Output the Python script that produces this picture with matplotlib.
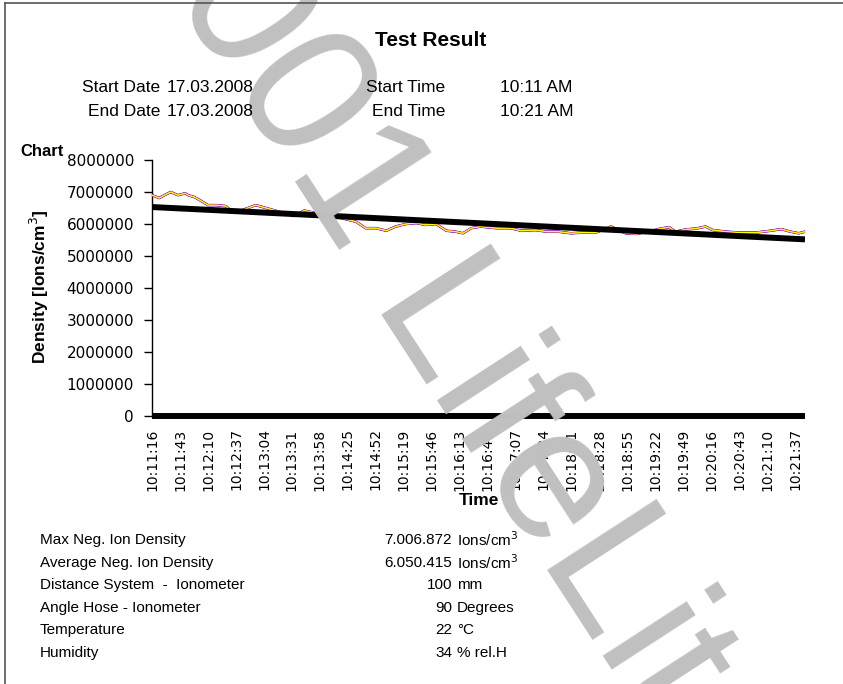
import numpy as np
import matplotlib
matplotlib.use("Agg")
import matplotlib.pyplot as plt
from matplotlib.lines import Line2D

# seconds after 10:11:16 and the read-off ion density (all three sensors overlap)
SECONDS = [0, 7, 12, 18, 25, 32, 35, 41, 47, 54, 62, 71, 78, 86, 100, 110, 124, 137, 147, 158,
           171, 177, 182, 197, 206, 216, 226, 235, 245, 255, 264, 274, 284, 293, 300, 308, 317,
           332, 346, 356, 370, 381, 392, 404, 414, 428, 443, 457, 467, 479, 491, 499, 505, 515,
           525, 534, 541, 554, 568, 582, 597, 607, 616, 624, 630]
DENSITY = [6.90, 6.81, 6.90, 7.00, 6.90, 6.96, 6.90, 6.84, 6.73, 6.59, 6.59, 6.56, 6.38, 6.42,
           6.59, 6.50, 6.37, 6.25, 6.42, 6.34, 6.37, 6.33, 6.19, 6.07, 5.87, 5.87, 5.79, 5.92,
           6.00, 6.03, 5.97, 6.00, 5.79, 5.76, 5.71, 5.87, 5.92, 5.87, 5.87, 5.79, 5.81, 5.76,
           5.76, 5.71, 5.73, 5.73, 5.92, 5.71, 5.69, 5.76, 5.86, 5.90, 5.76, 5.83, 5.86, 5.92,
           5.81, 5.76, 5.73, 5.73, 5.79, 5.84, 5.76, 5.71, 5.76]
DENSITY = [v * 1e6 for v in DENSITY]

TREND_SECONDS = [0, 630]
TREND_DENSITY = [6.53e6, 5.52e6]

TIME_LABELS = ["10:11:16", "10:11:43", "10:12:10", "10:12:37", "10:13:04", "10:13:31",
               "10:13:58", "10:14:25", "10:14:52", "10:15:19", "10:15:46", "10:16:13",
               "10:16:40", "10:17:07", "10:17:34", "10:18:01", "10:18:28", "10:18:55",
               "10:19:22", "10:19:49", "10:20:16", "10:20:43", "10:21:10", "10:21:37"]
LABEL_STEP = 27

INFO_NAMES = ["Max Neg. Ion Density", "Average Neg. Ion Density", "Distance System  -  Ionometer",
              "Angle Hose - Ionometer", "Temperature", "Humidity"]
INFO_VALUES = ["7.006.872", "6.050.415", "100", "90", "22", "34"]
INFO_UNITS = ["Ions/cm$^3$", "Ions/cm$^3$", "mm", "Degrees", "\u00b0C", "% rel.H"]

W, H = 843, 684
fig = plt.figure(figsize=(W / 100, H / 100), dpi=100)
fig.patch.set_facecolor("white")

def fx(px):
    return px / W

def fy(py):
    return 1 - py / H

# watermark behind everything
fig.text(fx(115), fy(-95), "2001 LifeLite", fontsize=136, family="Liberation Sans",
         color="#c0c0c0", rotation=-57, rotation_mode="anchor", ha="left", va="baseline",
         zorder=0)

# page frame
fig.add_artist(Line2D([fx(5), fx(5)], [0, fy(3)], color="#555555", lw=1.2))
fig.add_artist(Line2D([fx(5), 1], [fy(3), fy(3)], color="#555555", lw=1.2))

# header
hfont = dict(family="Liberation Sans", fontsize=12.5)
fig.text(fx(431), fy(40), "Test Result", ha="center", va="center", fontweight="bold",
         family="Liberation Sans", fontsize=15)
fig.text(fx(160), fy(88), "Start Date", ha="right", va="center", **hfont)
fig.text(fx(167), fy(88), "17.03.2008", ha="left", va="center", **hfont)
fig.text(fx(160), fy(111), "End Date", ha="right", va="center", **hfont)
fig.text(fx(167), fy(111), "17.03.2008", ha="left", va="center", **hfont)
fig.text(fx(445), fy(88), "Start Time", ha="right", va="center", **hfont)
fig.text(fx(445), fy(111), "End Time", ha="right", va="center", **hfont)
fig.text(fx(500), fy(88), "10:11 AM", ha="left", va="center", **hfont)
fig.text(fx(500), fy(111), "10:21 AM", ha="left", va="center", **hfont)

fig.text(fx(20), fy(151), "Chart", ha="left", va="center", fontweight="bold",
         family="Liberation Sans", fontsize=12, zorder=5)

# chart
ax = fig.add_axes([fx(152), fy(416), fx(805) - fx(152), (416 - 160) / H])
ax.patch.set_alpha(0)
ax.plot(SECONDS, DENSITY, color="#000080", lw=1.8, zorder=2)
ax.plot(SECONDS, DENSITY, color="#ff00ff", lw=1.4, zorder=3)
ax.plot(SECONDS, DENSITY, color="#ffff00", lw=1.0, zorder=4)
ax.plot(TREND_SECONDS, TREND_DENSITY, color="black", lw=4.3, solid_capstyle="butt", zorder=5)

ax.set_xlim(0, 630)
ax.set_ylim(0, 8000000)
ax.set_yticks(np.arange(0, 8000001, 1000000))
ax.set_yticklabels([str(v) for v in range(0, 8000001, 1000000)])
ax.set_xticks([i * LABEL_STEP for i in range(len(TIME_LABELS))])
ax.set_xticklabels(TIME_LABELS, rotation=90)

for s in ["top", "right"]:
    ax.spines[s].set_visible(False)
ax.spines["left"].set_linewidth(1.0)
ax.spines["bottom"].set_linewidth(4.3)
ax.spines["bottom"].set_capstyle("butt")
ax.tick_params(axis="y", direction="out", length=6, width=1.0, pad=7, labelsize=11)
ax.tick_params(axis="x", length=0, pad=9, labelsize=10)
for lab in ax.get_yticklabels() + ax.get_xticklabels():
    lab.set_family("DejaVu Sans")

ax.set_ylabel("Density [Ions/cm$^3$]", fontweight="bold", family="Liberation Sans",
              fontsize=12.5)
ax.yaxis.set_label_coords((51 - 152) / 653, 0.504)
ax.set_xlabel("Time", fontweight="bold", family="Liberation Sans", fontsize=12.5)
ax.xaxis.set_label_coords(0.5, (416 - 493) / 256)

# info block
ifont = dict(family="Liberation Sans", fontsize=11)
for i, (name, val, unit) in enumerate(zip(INFO_NAMES, INFO_VALUES, INFO_UNITS)):
    y = fy(540 + i * 22.6)
    fig.text(fx(40), y, name, ha="left", va="center", **ifont)
    fig.text(fx(452), y, val, ha="right", va="center", **ifont)
    fig.text(fx(457), y, unit, ha="left", va="center", **ifont)

fig.savefig("out.png", dpi=100)
